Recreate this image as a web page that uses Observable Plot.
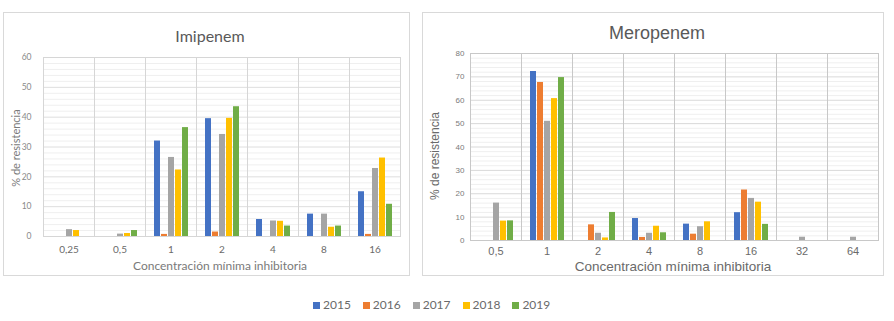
<!DOCTYPE html>
<html>
<head>
<meta charset="utf-8">
<script src="https://cdn.jsdelivr.net/npm/d3@7"></script>
<script src="https://cdn.jsdelivr.net/npm/@observablehq/plot@0.6"></script>
<style>
  html, body { margin: 0; padding: 0; background: #fff; }
  #page { position: relative; width: 894px; height: 321px; overflow: hidden; background: #fff; }
  .box { position: absolute; border: 1px solid #d9d9d9; background: #fff; box-sizing: border-box; }
  .abs { position: absolute; white-space: nowrap; }
  .left { font-family: Lato, "Open Sans", sans-serif; color: #7a7a7a; }
  .right { font-family: "Liberation Sans", Arial, sans-serif; color: #6a6a6a; }
  #imi svg g[aria-label="fx-axis tick label"] text { font-size: 10px; fill: #6a6a6a; }
  #imi svg g[aria-label="y-axis tick label"] text { font-size: 8.5px; fill: #8a8a8a; }
  #mero svg g[aria-label="fx-axis tick label"] text { font-size: 11px; fill: #6a6a6a; }
  #mero svg g[aria-label="y-axis tick label"] text { font-size: 8px; fill: #7a7a7a; }
  #legend { position: absolute; left: 313px; top: 297px; font-family: Lato, "Open Sans", sans-serif; font-size: 12px; color: #6a6a6a; display: flex; gap: 12px; }
  #legend span.sw { display: inline-block; width: 7px; height: 7px; margin-right: 3px; vertical-align: 0px; }
</style>
</head>
<body>
<div id="page">
  <div class="box" style="left:3px;top:12px;width:407px;height:264px;"></div>
  <div class="box" style="left:422px;top:12px;width:462px;height:264px;"></div>
  <div id="imi" class="abs" style="left:3px;top:12px;"></div>
  <div id="mero" class="abs" style="left:422px;top:12px;"></div>
  <div class="abs left" style="left:210px;top:35px;transform:translate(-50%,-50%);font-size:16px;color:#595959;">Imipenem</div>
  <div class="abs right" style="left:657px;top:33px;transform:translate(-50%,-50%);font-size:18px;color:#595959;">Meropenem</div>
  <div class="abs left" style="left:15px;top:148px;transform:translate(-50%,-50%) rotate(-90deg);font-size:11px;">% de resistencia</div>
  <div class="abs right" style="left:435px;top:156px;transform:translate(-50%,-50%) rotate(-90deg);font-size:12px;">% de resistencia</div>
  <div class="abs left" style="left:220px;top:265px;transform:translate(-50%,-50%);font-size:12px;">Concentración mínima inhibitoria</div>
  <div class="abs right" style="left:673px;top:266px;transform:translate(-50%,-50%);font-size:13.5px;">Concentración mínima inhibitoria</div>
  <div id="legend"></div>
</div>
<script>
const years = ["2015", "2016", "2017", "2018", "2019"];
const colors = ["#4472C4", "#ED7D31", "#A5A5A5", "#FFC000", "#70AD47"];

// Imipenem
const imiCats = ["0,25", "0,5", "1", "2", "4", "8", "16"];
const imi2015 = [0, 0, 32.0, 39.5, 5.7, 7.5, 15.0];
const imi2016 = [0, 0, 0.7, 1.5, 0, 0, 0.7];
const imi2017 = [2.3, 0.8, 26.5, 34.2, 5.2, 7.5, 22.8];
const imi2018 = [2.0, 1.0, 22.3, 39.6, 5.1, 3.1, 26.3];
const imi2019 = [0, 2.0, 36.5, 43.5, 3.5, 3.5, 10.8];
const imiMajor = [0, 10, 20, 30, 40, 50, 60];
const imiMinor = [2, 4, 6, 8, 12, 14, 16, 18, 22, 24, 26, 28, 32, 34, 36, 38, 42, 44, 46, 48, 52, 54, 56, 58];

// Meropenem
const meroCats = ["0,5", "1", "2", "4", "8", "16", "32", "64"];
const mero2015 = [0, 72.3, 0, 9.4, 7.0, 11.9, 0, 0];
const mero2016 = [0, 67.6, 6.7, 1.3, 2.7, 21.6, 0, 0];
const mero2017 = [16.0, 51.0, 3.1, 3.1, 5.9, 18.0, 1.4, 1.4];
const mero2018 = [8.3, 60.7, 1.1, 6.1, 8.0, 16.4, 0, 0];
const mero2019 = [8.4, 69.7, 12.0, 3.3, 0, 6.9, 0, 0];
const meroMajor = [0, 10, 20, 30, 40, 50, 60, 70, 80];
const meroMinor = [2, 4, 6, 8, 12, 14, 16, 18, 22, 24, 26, 28, 32, 34, 36, 38, 42, 44, 46, 48, 52, 54, 56, 58, 62, 64, 66, 68, 72, 74, 76, 78];

function toRows(cats, series) {
  const rows = [];
  cats.forEach((c, i) => years.forEach((y, j) => {
    if (series[j][i] > 0) rows.push({cat: c, year: y, v: series[j][i]});
  }));
  return rows;
}

function panel(cats, series, major, minor, o) {
  return Plot.plot({
    width: o.width, height: o.height,
    marginTop: o.mt, marginBottom: o.mb, marginLeft: o.ml, marginRight: o.mr,
    style: {fontFamily: o.font, background: "transparent", overflow: "visible"},
    fx: {domain: cats, padding: 0, label: null, tickSize: 0, tickPadding: o.fxPad},
    x: {domain: years, axis: null, paddingInner: 0.2, paddingOuter: 0.9},
    y: {domain: [0, major[major.length - 1]], ticks: major.length - 1, label: null, tickSize: 0, tickPadding: o.yPad, tickFormat: d3.format("d")},
    color: {domain: years, range: colors},
    marks: [
      Plot.ruleY(minor, {stroke: "#efefef", strokeWidth: 1}),
      Plot.ruleY(major, {stroke: o.gridColor, strokeWidth: 1}),
      Plot.frame({stroke: o.frameColor, strokeWidth: 1}),
      Plot.barY(toRows(cats, series), {fx: "cat", x: "year", y: "v", fill: "year"})
    ]
  });
}

document.getElementById("imi").append(panel(imiCats, [imi2015, imi2016, imi2017, imi2018, imi2019], imiMajor, imiMinor,
  {width: 407, height: 263, mt: 45, mb: 39, ml: 37, mr: 8, font: "Lato, sans-serif", fxPad: 9, yPad: 12, gridColor: "#dedede", frameColor: "#d6d6d6"}));
document.getElementById("mero").append(panel(meroCats, [mero2015, mero2016, mero2017, mero2018, mero2019], meroMajor, meroMinor,
  {width: 461, height: 263, mt: 41, mb: 35, ml: 46, mr: 3, font: "'Liberation Sans', Arial, sans-serif", fxPad: 7, yPad: 6, gridColor: "#d9d9d9", frameColor: "#c8c8c8"}));

const legend = document.getElementById("legend");
years.forEach((y, i) => {
  const item = document.createElement("div");
  item.innerHTML = `<span class="sw" style="background:${colors[i]}"></span>${y}`;
  legend.append(item);
});
</script>
</body>
</html>
